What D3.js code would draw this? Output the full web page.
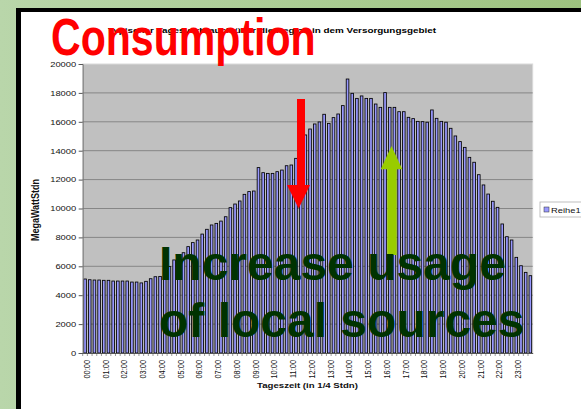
<!DOCTYPE html>
<html>
<head>
<meta charset="utf-8">
<script src="https://d3js.org/d3.v7.min.js"></script>
<style>
  body { margin: 0; }
  svg { display: block; font-family: "Liberation Sans", Arial, sans-serif; }
</style>
</head>
<body>
<div id="chart"></div>
<script>
var svgWidth = 581;
var svgHeight = 409;

// hour labels shown under the x axis
var hourLabels = ["00:00", "01:00", "02:00", "03:00", "04:00", "05:00", "06:00", "07:00",
    "08:00", "09:00", "10:00", "11:00", "12:00", "13:00", "14:00", "15:00",
    "16:00", "17:00", "18:00", "19:00", "20:00", "21:00", "22:00", "23:00"];
var quarterMinutes = ["00", "15", "30", "45"];

// MegaWattStdn per quarter hour
var load = [
    5120, 5070, 5050, 5050, 5030, 5030, 4980, 4980,
    4980, 4980, 4910, 4910, 4850, 4960, 5140, 5280,
    5300, 5600, 5980, 6440, 6700, 6940, 7360, 7640,
    7820, 8230, 8560, 8860, 8970, 9130, 9430, 10060,
    10310, 10520, 10980, 11170, 11210, 12830, 12480, 12430,
    12430, 12550, 12660, 12960, 13010, 13470, 14200, 15090,
    15500, 15850, 15990, 16520, 15890, 16290, 16540, 17120,
    18960, 17970, 17620, 17790, 17620, 17620, 17230, 17000,
    18020, 17000, 17000, 16700, 16700, 16310, 16220, 16030,
    16010, 15970, 16820, 16240, 16030, 15970, 15550, 15020,
    14630, 14230, 13540, 13200, 12340, 11630, 11000, 10500,
    10080, 8930, 8050, 7820, 6620, 6040, 5580, 5350
];

var yTicks = [0, 2000, 4000, 6000, 8000, 10000, 12000, 14000, 16000, 18000, 20000];

var titleText = "Typischer Tagesverbrauch über die Region in dem Versorgungsgebiet";
var seriesName = "Reihe1";

// quarter hour categories, "00:00" ... "23:45"
var categories = [];
hourLabels.forEach(function (h) {
    quarterMinutes.forEach(function (m) {
        categories.push(h.slice(0, 3) + m);
    });
});

var plot = { left: 82.7, top: 64, right: 532.7, bottom: 353 };
var stretch = 1.3; // the chart picture is stretched sideways

var svg = d3.select("#chart")
    .append("svg")
    .attr("width", svgWidth)
    .attr("height", svgHeight);

// Slide background and chart frame
// ==============================
var defs = svg.append("defs");
var grad = defs.append("linearGradient")
    .attr("id", "slideBg")
    .attr("x1", "0").attr("y1", "0").attr("x2", "1").attr("y2", "0");
grad.append("stop").attr("offset", "0").attr("stop-color", "#b9d6aa");
grad.append("stop").attr("offset", "1").attr("stop-color", "#9dc27f");

svg.append("rect")
    .attr("width", svgWidth)
    .attr("height", svgHeight)
    .attr("fill", "url(#slideBg)");

svg.append("rect")
    .attr("x", 16).attr("y", 8)
    .attr("width", svgWidth - 16).attr("height", svgHeight - 8)
    .attr("fill", "#000");

svg.append("rect")
    .attr("x", 21).attr("y", 12)
    .attr("width", svgWidth - 21).attr("height", svgHeight - 12)
    .attr("fill", "#fff");

// Scales
// ==============================
var xBand = d3.scaleBand()
    .domain(categories)
    .range([plot.left, plot.right])
    .paddingInner(0.44)
    .paddingOuter(0.22);

var yLinear = d3.scaleLinear()
    .domain([0, 20000])
    .range([plot.bottom, plot.top]);

// Plot area and gridlines
// ==============================
svg.append("rect")
    .attr("x", plot.left)
    .attr("y", plot.top)
    .attr("width", plot.right - plot.left)
    .attr("height", plot.bottom - plot.top)
    .attr("fill", "#c0c0c0")
    .attr("stroke", "#dadada")
    .attr("stroke-width", 1);

svg.append("g")
    .selectAll("line")
    .data(yTicks.filter(d => d > 0 && d < 20000))
    .enter()
    .append("line")
    .attr("x1", plot.left)
    .attr("x2", plot.right)
    .attr("y1", d => yLinear(d))
    .attr("y2", d => yLinear(d))
    .attr("stroke", "#868686")
    .attr("stroke-width", 1);

// Bars
// ==============================
svg.append("g")
    .selectAll("rect")
    .data(load)
    .enter()
    .append("rect")
    .attr("x", (d, i) => xBand(categories[i]))
    .attr("y", d => yLinear(d))
    .attr("width", xBand.bandwidth())
    .attr("height", d => plot.bottom - yLinear(d))
    .attr("fill", "#9999ff")
    .attr("stroke", "#000")
    .attr("stroke-width", 0.85);

// Axes
// ==============================
var leftAxis = d3.axisLeft(yLinear)
    .tickValues(yTicks)
    .tickSize(4)
    .tickFormat(d3.format("d"));

var yAxisG = svg.append("g")
    .attr("transform", `translate(${plot.left}, 0)`)
    .call(leftAxis);
yAxisG.select(".domain").attr("stroke", "#777");
yAxisG.selectAll(".tick line").attr("stroke", "#555");
yAxisG.selectAll(".tick text")
    .attr("x", -6.5 / stretch)
    .attr("transform", `scale(${stretch},1)`)
    .attr("font-size", 7.2)
    .attr("font-family", "Liberation Sans, Arial, sans-serif")
    .attr("fill", "#111");

var bottomAxis = d3.axisBottom(xBand)
    .tickValues(categories.filter((d, i) => i % 4 === 0))
    .tickSize(0);

var xAxisG = svg.append("g")
    .attr("transform", `translate(0, ${plot.bottom})`)
    .call(bottomAxis);
xAxisG.select(".domain").attr("stroke", "#555");
xAxisG.selectAll(".tick text")
    .attr("transform", `translate(1.5,0) scale(${stretch},1) rotate(-90)`)
    .attr("x", -7)
    .attr("y", 0)
    .attr("dy", "0.35em")
    .attr("font-size", 7.4)
    .attr("font-family", "Liberation Sans, Arial, sans-serif")
    .attr("fill", "#111")
    .style("text-anchor", "end");

// small tick marks between the quarter hours
svg.append("g")
    .selectAll("line")
    .data(categories)
    .enter()
    .append("line")
    .attr("x1", d => xBand(d) - xBand.step() * xBand.paddingInner() / 2)
    .attr("x2", d => xBand(d) - xBand.step() * xBand.paddingInner() / 2)
    .attr("y1", plot.bottom)
    .attr("y2", plot.bottom + 3)
    .attr("stroke", "#555")
    .attr("stroke-width", 0.6);

// Titles
// ==============================
svg.append("text")
    .attr("transform", `translate(272, 33) scale(${stretch},1)`)
    .attr("text-anchor", "middle")
    .attr("font-size", 7.6)
    .attr("font-weight", "bold")
    .attr("fill", "#000")
    .text(titleText);

svg.append("text")
    .attr("transform", `translate(307.5, 388) scale(${stretch},1)`)
    .attr("text-anchor", "middle")
    .attr("font-size", 7.4)
    .attr("font-weight", "bold")
    .attr("fill", "#111")
    .text("Tageszeit (in 1/4 Stdn)");

svg.append("text")
    .attr("transform", `translate(39, 210) scale(${stretch},1) rotate(-90)`)
    .attr("text-anchor", "middle")
    .attr("font-size", 9)
    .attr("font-weight", "bold")
    .attr("fill", "#111")
    .text("MegaWattStdn");

// Legend
// ==============================
var legend = svg.append("g").attr("transform", "translate(540, 202)");
legend.append("rect")
    .attr("width", 60).attr("height", 15)
    .attr("fill", "#fff")
    .attr("stroke", "#b0b0b0")
    .attr("stroke-width", 0.8);
legend.append("rect")
    .attr("x", 4).attr("y", 5)
    .attr("width", 5).attr("height", 5)
    .attr("fill", "#9999ff")
    .attr("stroke", "#333")
    .attr("stroke-width", 0.5);
legend.append("text")
    .attr("transform", `translate(11, 10.5) scale(${stretch},1)`)
    .attr("font-size", 7.2)
    .attr("fill", "#111")
    .text(seriesName);

// Slide annotations
// ==============================
svg.append("text")
    .attr("transform", "translate(51, 55) scale(0.79,1)")
    .attr("font-size", 52)
    .attr("font-weight", "bold")
    .attr("fill", "#ff0000")
    .text("Consumption");

svg.append("path")
    .attr("d", "M297,99 L305,99 L305,185 L310,185 L298.7,208.5 L287,185 L297,185 Z")
    .attr("fill", "#ff0000");

svg.append("path")
    .attr("d", "M387.3,255 L396.7,255 L396.7,169.3 L402.3,169.3 L391.5,146 L380.7,169.3 L387.3,169.3 Z")
    .attr("fill", "#99cc00");

svg.append("text")
    .attr("x", 159).attr("y", 280)
    .attr("font-size", 48)
    .attr("font-weight", "bold")
    .attr("fill", "#003300")
    .text("Increase usage");

svg.append("text")
    .attr("x", 159).attr("y", 337)
    .attr("font-size", 48)
    .attr("font-weight", "bold")
    .attr("fill", "#003300")
    .text("of local sources");
</script>
</body>
</html>
